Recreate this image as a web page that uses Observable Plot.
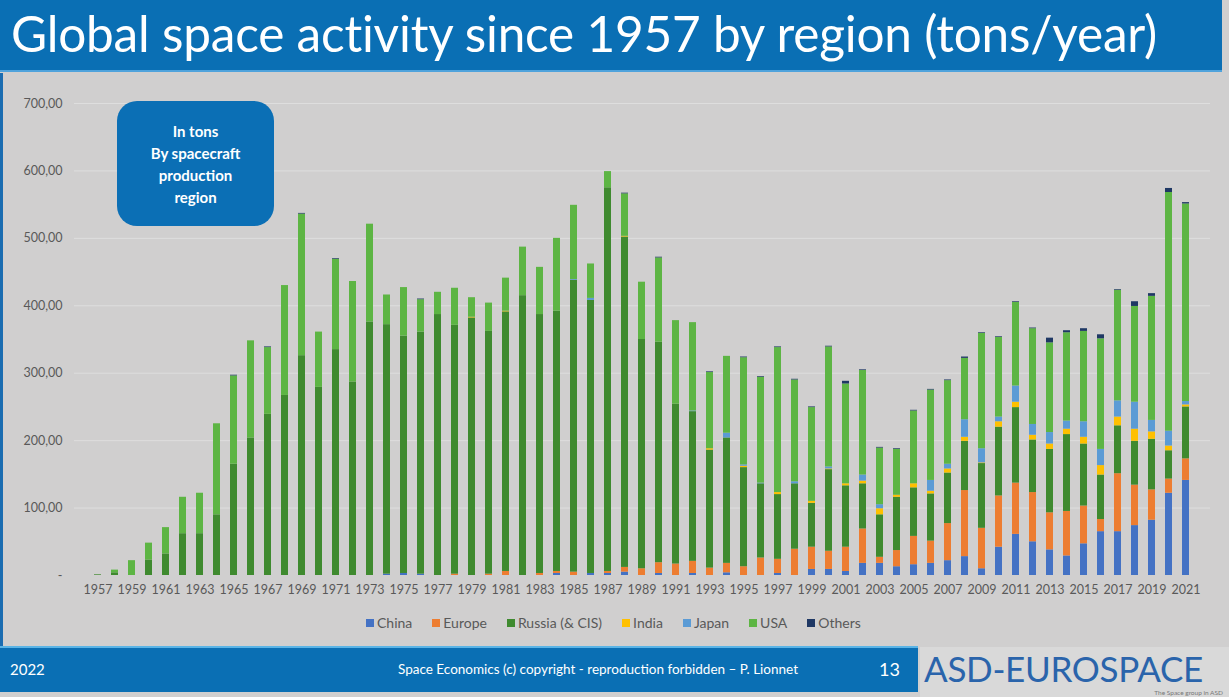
<!DOCTYPE html>
<html>
<head>
<meta charset="utf-8">
<script src="https://cdn.jsdelivr.net/npm/d3@7"></script>
<script src="https://cdn.jsdelivr.net/npm/@observablehq/plot@0.6"></script>
<style>
  html, body { margin: 0; padding: 0; }
  body { width: 1229px; height: 697px; background: #d0cfcf; position: relative; overflow: hidden; font-family: Lato, "Open Sans", sans-serif; }
  #titlebar { position: absolute; left: 0; top: 0; width: 1222px; height: 70px; background: #0a6fb4; border-bottom: 2px solid #4fa3dc; }
  #titlebar h1 { margin: 0; position: absolute; left: 11px; top: 3px; font-size: 49.5px; line-height: 60px; font-weight: 400; color: #fff; white-space: nowrap; letter-spacing: -0.2px; }
  #leftline { position: absolute; left: 0; top: 73px; width: 3px; height: 573px; background: #1b6db1; }
  #chart { position: absolute; left: 0; top: 90px; }
  #note { position: absolute; left: 117px; top: 101px; width: 157px; height: 125px; border-radius: 20px; background: #0b6fb5; color: #fff; font-weight: 700; font-size: 15px; line-height: 22px; text-align: center; display: flex; align-items: center; justify-content: center; }
  #legend { position: absolute; left: 366px; top: 614px; display: flex; gap: 20px; font-size: 14px; color: #595959; }
  #legend .it { display: flex; align-items: center; gap: 3px; }
  #legend .sw { width: 8px; height: 8px; display: inline-block; }
  #footer { position: absolute; left: 0; top: 646px; width: 918px; height: 44px; background: #0a6fb4; border-top: 2px solid #5ab4e6; color: #fff; }
  #footer .y { position: absolute; left: 10px; top: 12px; font-size: 15px; }
  #footer .c { position: absolute; left: 398px; top: 13px; font-size: 13.5px; white-space: nowrap; }
  #footer .n { position: absolute; left: 879px; top: 10px; font-size: 18px; }
  #logo { position: absolute; left: 920px; top: 647px; width: 309px; height: 50px; background: #d9d9d9; }
  #logo .t { position: absolute; display: block; left: 4px; top: 3px; height: 36px; font-size: 35px; color: #2a64ab; font-weight: 400; letter-spacing: -0.3px; white-space: nowrap; line-height: 36px; }
  #logo .s { position: absolute; display: block; right: 6px; top: 42px; height: 7px; font-size: 6.5px; line-height: 7px; color: #777; white-space: nowrap; }
</style>
</head>
<body>
<div id="titlebar"><h1>Global space activity since 1957 by region (tons/year)</h1></div>
<div id="leftline"></div>
<div id="chart"></div>
<div id="note"><div>In tons<br>By spacecraft<br>production<br>region</div></div>
<div id="legend"></div>
<div id="footer"><span class="y">2022</span><span class="c">Space Economics (c) copyright - reproduction forbidden – P. Lionnet</span><span class="n">13</span></div>
<div id="logo"><div class="t">ASD-EUROSPACE</div><div class="s">The Space group in ASD</div></div>
<script>
const years = d3.range(1957, 2022);
const regions = ["China", "Europe", "Russia (& CIS)", "India", "Japan", "USA", "Others"];
const colors = ["#4472c4", "#ed7d31", "#3f8a2f", "#ffc000", "#5b9bd5", "#5db544", "#1f3864"];
const yTicks = [0, 100, 200, 300, 400, 500, 600, 700];
const xTickYears = years.filter(y => y % 2 === 1);

// tons per year, 1957..2021
const china = [0,0,0,0,0,0,0,0,0,0,0,0,0,0,0,0,0,2,3,
  2,0,0,0,0,0,0,0,3,0,3,3,5,0,3,0,3,0,4,0,0,3,0,9,
  9,6,18,18,13,16,18,22,28,10,42,61,50,38,29,47,65,65,74,82,122,141];
const europe = [0,0,0,0,0,0,0,0,0,0,0,0,0,0,0,0,0,0,0,
  0,0,2,0,2,6,0,3,3,5,0,3,7,10,16,17,18,11,14,13,26,21,39,33,
  27,36,51,9,24,42,33,55,98,60,76,76,73,55,66,56,18,86,60,45,21,32];
const russia = [1,4,0,23,32,62,62,90,165,204,239,267,326,279,335,287,376,370,352,
  359,387,369,382,360,385,415,384,386,433,405,569,490,340,327,237,222,175,186,147,110,96,97,65,
  121,91,67,63,79,72,70,75,73,96,102,112,78,94,114,92,66,71,65,75,42,77];
const india = [0,0,0,0,0,0,0,0,0,0,0,0,0,0,0,0,0,0,0,
  0,0,0,1,0,1,0,0,0,0,0,0,1,0,0,0,0,2,0,2,0,3,0,3,
  1,3,4,9,3,6,4,6,6,1,8,8,7,8,8,10,14,13,18,11,7,3];
const japan = [0,0,0,0,0,0,0,0,0,0,0,0,0,0,0,0,0,0,0,
  0,0,0,0,0,0,0,0,0,1,3,0,0,0,0,0,1,0,7,2,1,0,3,0,
  3,0,9,6,0,0,16,7,26,21,7,24,16,17,12,23,24,24,40,17,22,5];
const usa = [0,4,22,25,39,54,60,135,131,144,99,163,210,82,134,149,145,44,72,
  48,33,55,29,42,49,72,70,108,110,51,24,63,85,125,124,131,113,114,159,157,215,151,139,
  178,148,155,84,68,108,134,124,91,171,118,124,142,133,131,134,164,164,142,184,354,293];
const others = [0,0,0,0,0,0,0,0,1,0,1,0,1,0,1,0,0,0,0,
  1,0,0,0,0,0,0,0,0,0,0,0,1,0,1,0,0,1,0,1,1,1,1,1,
  1,4,1,1,1,1,1,1,2,1,1,1,1,7,3,4,6,1,7,4,6,2];

const series = [china, europe, russia, india, japan, usa, others];
const data = [];
years.forEach((yr, i) => {
  regions.forEach((r, k) => data.push({year: yr, region: r, value: series[k][i]}));
});

const fmt = d => d === 0 ? "-" : d3.format(".2f")(d).replace(".", ",");

const chart = Plot.plot({
  width: 1229,
  height: 520,
  marginLeft: 74,
  marginRight: 19,
  marginTop: 13,
  marginBottom: 35,
  style: {background: "transparent", fontFamily: "Lato, 'Open Sans', sans-serif", color: "#595959"},
  x: {type: "band", domain: years, paddingInner: 0.58, paddingOuter: 0.6},
  y: {domain: [0, 700]},
  color: {domain: regions, range: colors},
  marks: [
    Plot.gridY(yTicks.slice(1), {stroke: "#dedede", strokeOpacity: 1, strokeWidth: 1}),
    Plot.barY(data, {x: "year", y: "value", fill: "region", z: "region"}),
    Plot.axisX({ticks: xTickYears, tickFormat: d => String(d), tickSize: 0, tickPadding: 10, fontSize: 12.5, label: null}),
    Plot.axisY({ticks: yTicks, tickFormat: fmt, tickSize: 0, tickPadding: 12, fontSize: 12.5, label: null})
  ]
});
document.getElementById("chart").appendChild(chart);

const legend = document.getElementById("legend");
regions.forEach((r, k) => {
  const it = document.createElement("span");
  it.className = "it";
  it.innerHTML = `<span class="sw" style="background:${colors[k]}"></span><span>${r}</span>`;
  legend.appendChild(it);
});
</script>
</body>
</html>
